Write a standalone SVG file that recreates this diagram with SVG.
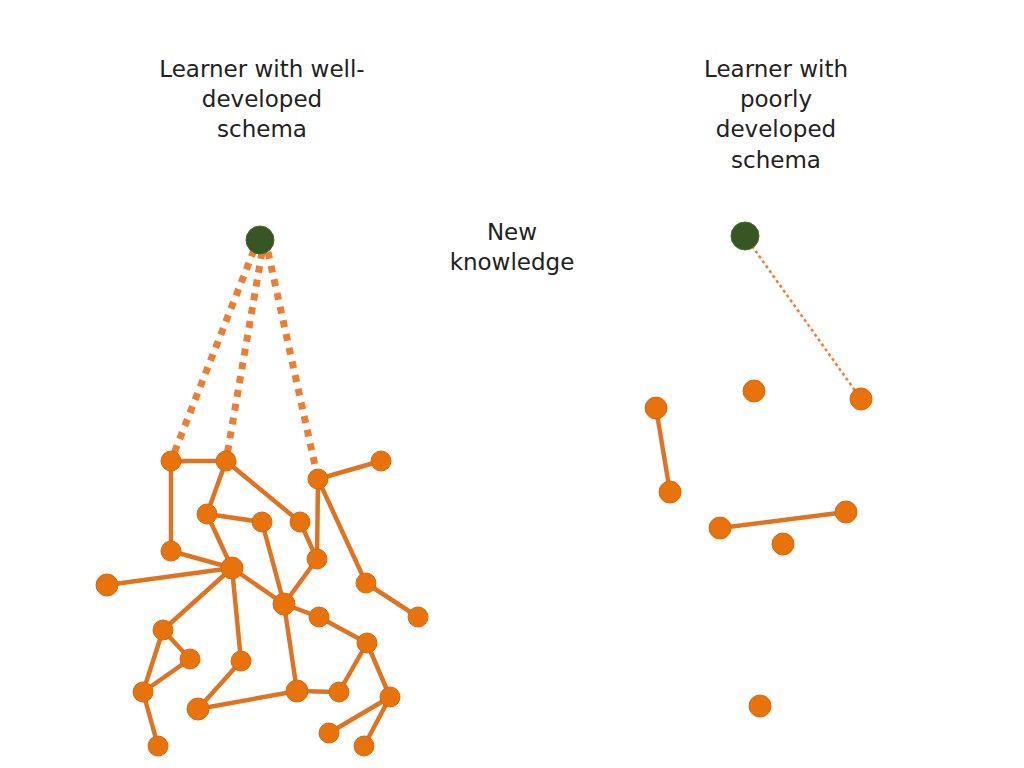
<svg xmlns="http://www.w3.org/2000/svg" width="1024" height="768" viewBox="0 0 1024 768">
<style>
.t{font-family:"DejaVu Sans","Liberation Sans",sans-serif;font-size:23px;fill:#222;text-anchor:middle}
.e{stroke:#DE7421;stroke-width:4.5;fill:none}
.d{stroke:#ED7D31;stroke-width:7;stroke-dasharray:7 7;fill:none}
.n circle{fill:#E8720C;stroke:#D36A10;stroke-width:1}
.g{fill:#375623;stroke:#4a6a30;stroke-width:1}
</style>
<rect width="1024" height="768" fill="#fff"/>
<g id="labels">
<text class="t" x="262" y="77">Learner with well-</text>
<text class="t" x="262" y="107">developed</text>
<text class="t" x="262" y="137">schema</text>
<text class="t" x="776" y="77">Learner with</text>
<text class="t" x="776" y="107">poorly</text>
<text class="t" x="776" y="137">developed</text>
<text class="t" x="776" y="168">schema</text>
<text class="t" x="512" y="240">New</text>
<text class="t" x="512" y="270">knowledge</text>
</g>
<g id="connectors">
<path class="d" d="M254,250L171,461M262,252L226,461M268,252L318,479"/>
<path stroke="#ED7D31" stroke-width="2.5" stroke-dasharray="3 3" fill="none" d="M752,246L861,399"/>
<path class="e" d="M171,461L226,461M171,461L171,551M226,461L207,514M226,461L300,522M207,514L262,522M207,514L232,568M262,522L284,604M300,522L317,559M318,479L381,461M318,479L317,559M318,479L366,583M366,583L418,617M171,551L232,568M232,568L284,604M232,568L163,630M232,568L241,661M284,604L317,559M284,604L319,617M284,604L297,691M319,617L367,643M367,643L339,692M367,643L390,697M390,697L329,733M390,697L364,746M163,630L190,659M163,630L143,692M190,659L143,692M143,692L158,746M241,661L198,709M198,709L297,691M297,691L339,692"/>
<path class="e" stroke-width="6" d="M107,585L232,568"/>
<path class="e" stroke-width="5" d="M656,408L670,492M720,528L846,512"/>
</g>
<g id="nodes" class="n">
<circle cx="171" cy="461" r="10"/><circle cx="226" cy="461" r="10"/><circle cx="318" cy="479" r="10"/><circle cx="381" cy="461" r="10"/>
<circle cx="207" cy="514" r="10"/><circle cx="262" cy="522" r="10"/><circle cx="300" cy="522" r="10"/><circle cx="171" cy="551" r="10"/>
<circle cx="232" cy="568" r="11"/><circle cx="317" cy="559" r="10"/><circle cx="107" cy="585" r="11"/><circle cx="284" cy="604" r="11"/>
<circle cx="366" cy="583" r="10"/><circle cx="418" cy="617" r="10"/><circle cx="319" cy="617" r="10"/><circle cx="163" cy="630" r="10"/>
<circle cx="190" cy="659" r="10"/><circle cx="241" cy="661" r="10"/><circle cx="367" cy="643" r="10"/><circle cx="143" cy="692" r="10"/>
<circle cx="198" cy="709" r="11"/><circle cx="297" cy="691" r="11"/><circle cx="339" cy="692" r="10"/><circle cx="390" cy="697" r="10"/>
<circle cx="158" cy="746" r="10"/><circle cx="329" cy="733" r="10"/><circle cx="364" cy="746" r="10"/>
<circle cx="754" cy="391" r="11"/><circle cx="861" cy="399" r="11"/><circle cx="656" cy="408" r="11"/><circle cx="670" cy="492" r="11"/>
<circle cx="720" cy="528" r="11"/><circle cx="846" cy="512" r="11"/><circle cx="783" cy="544" r="11"/><circle cx="760" cy="706" r="11"/>
</g>
<g id="new-knowledge">
<circle class="g" cx="260" cy="240" r="14"/>
<circle class="g" cx="745" cy="236" r="14"/>
</g>
</svg>
